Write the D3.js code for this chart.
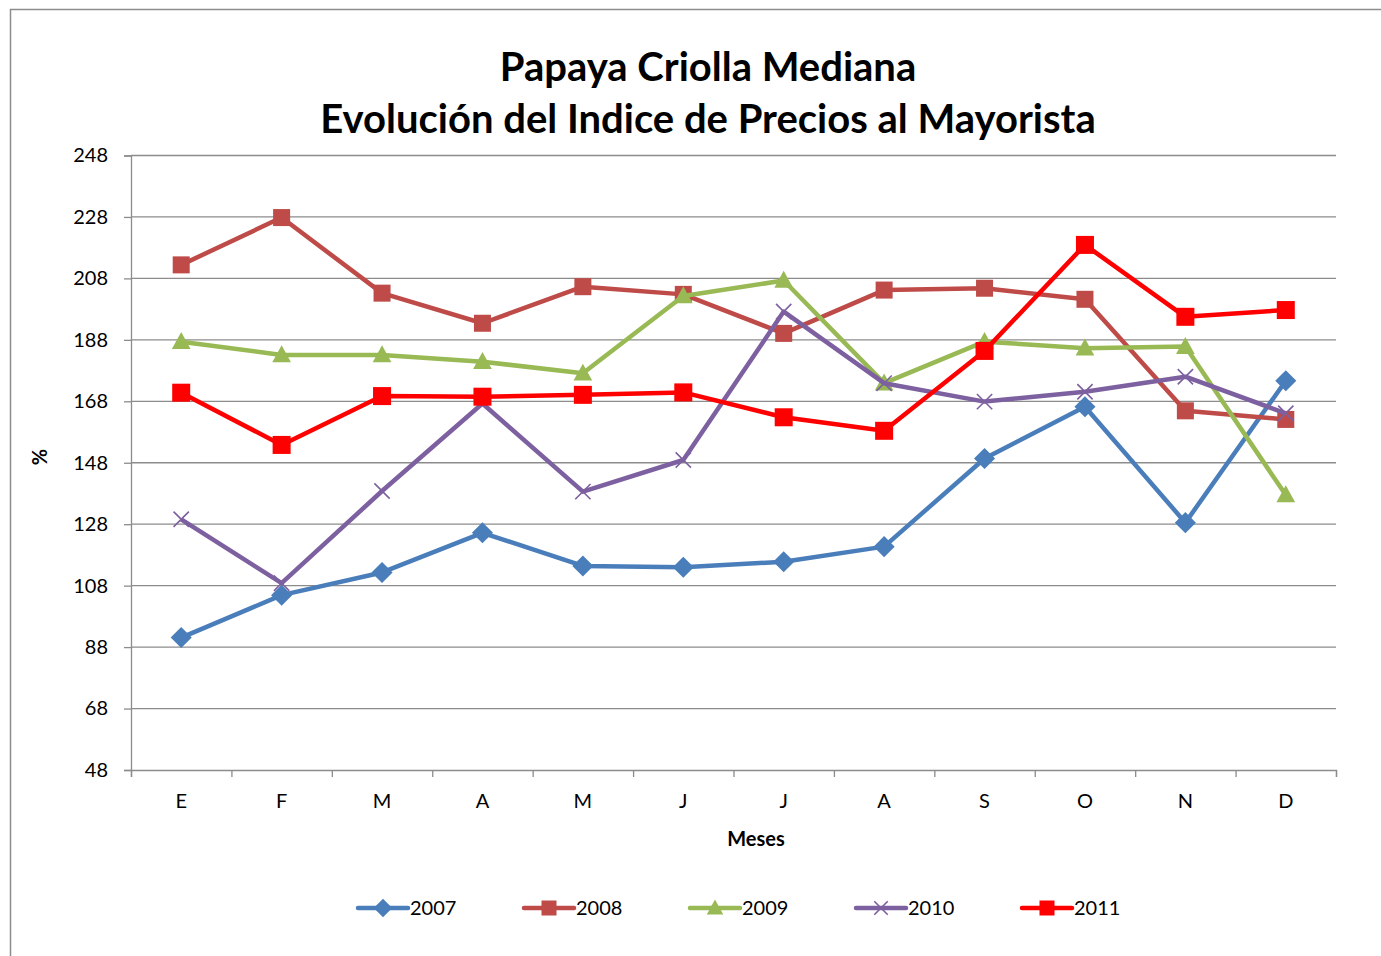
<!DOCTYPE html>
<html>
<head>
<meta charset="utf-8">
<script src="https://cdn.jsdelivr.net/npm/d3@7.9.0/dist/d3.min.js"></script>
<style>
  html, body { margin: 0; padding: 0; background: #fff; }
  svg { display: block; font-family: Lato, "Open Sans", sans-serif; }
</style>
</head>
<body>
<svg id="chart" width="1381" height="956"></svg>
<script>
const months = ['E', 'F', 'M', 'A', 'M', 'J', 'J', 'A', 'S', 'O', 'N', 'D'];
const yTicks = [48, 68, 88, 108, 128, 148, 168, 188, 208, 228, 248];

const v2007 = [91.1, 104.9, 112.3, 125.2, 114.4, 114.0, 115.8, 120.7, 149.4, 166.2, 128.5, 174.7];
const v2008 = [212.4, 227.8, 203.2, 193.4, 205.3, 202.8, 190.1, 204.2, 204.8, 201.2, 164.9, 162.1];
const v2009 = [187.4, 183.1, 183.1, 180.9, 177.1, 202.3, 207.3, 173.9, 187.4, 185.3, 185.8, 137.5];
const v2010 = [129.6, 108.8, 138.8, 167.3, 138.6, 148.9, 197.2, 173.9, 167.9, 171.1, 176.0, 164.1];
const v2011 = [170.8, 153.8, 169.7, 169.5, 170.1, 170.9, 162.8, 158.4, 184.4, 218.9, 195.5, 197.7];

const series = [
  { label: '2007', values: v2007, color: '#4A7EBB', marker: 'diamond' },
  { label: '2008', values: v2008, color: '#BE4B48', marker: 'square' },
  { label: '2009', values: v2009, color: '#98B954', marker: 'triangle' },
  { label: '2010', values: v2010, color: '#7D60A0', marker: 'x' },
  { label: '2011', values: v2011, color: '#FF0000', marker: 'square' },
];

const svg = d3.select('#chart');

// outer chart border
svg.append('rect')
  .attr('x', 10.5).attr('y', 9.5)
  .attr('width', 1400).attr('height', 1000)
  .attr('fill', 'none').attr('stroke', '#8c8c8c').attr('stroke-width', 1.5);

const plotLeft = 131, plotRight = 1336, plotTop = 155.5, plotBottom = 770;

const xEdge = d3.scaleLinear().domain([0, months.length]).range([plotLeft, plotRight]);
const x = i => xEdge(i + 0.5);
const y = d3.scaleLinear().domain([48, 248]).range([plotBottom, plotTop]);

// title
const title = svg.append('text')
  .attr('text-anchor', 'middle')
  .style('font-size', '40px').style('font-weight', 'bold');
title.append('tspan').attr('x', 708).attr('y', 81).text('Papaya Criolla Mediana');
title.append('tspan').attr('x', 708).attr('y', 133).text('Evolución del Indice de Precios al Mayorista');

// gridlines
svg.append('g')
  .selectAll('line')
  .data(yTicks.slice(1))
  .join('line')
  .attr('x1', plotLeft).attr('x2', plotRight)
  .attr('y1', d => y(d)).attr('y2', d => y(d))
  .attr('stroke', '#8c8c8c').attr('stroke-width', 1.3);

// y axis
const yAxis = svg.append('g')
  .attr('transform', `translate(${plotLeft},0)`)
  .call(d3.axisLeft(y).tickValues(yTicks).tickSize(7).tickPadding(16));
yAxis.select('.domain').attr('stroke', '#8c8c8c').attr('stroke-width', 1.3);
yAxis.selectAll('.tick line').attr('stroke', '#8c8c8c').attr('stroke-width', 1.3);
yAxis.selectAll('.tick text')
  .style('font-size', '20px').style('font-family', 'Lato, sans-serif').attr('fill', '#000');

// x axis (tick marks at category edges)
const xAxis = svg.append('g')
  .attr('transform', `translate(0,${plotBottom})`)
  .call(d3.axisBottom(xEdge).tickValues(d3.range(months.length + 1)).tickSize(7).tickFormat(''));
xAxis.select('.domain').attr('stroke', '#8c8c8c').attr('stroke-width', 1.3);
xAxis.selectAll('.tick line').attr('stroke', '#8c8c8c').attr('stroke-width', 1.3);

svg.append('g')
  .selectAll('text')
  .data(months)
  .join('text')
  .attr('x', (d, i) => x(i))
  .attr('y', 808)
  .attr('text-anchor', 'middle')
  .style('font-size', '20px')
  .text(d => d);

// axis titles
svg.append('text')
  .attr('x', 756).attr('y', 846)
  .attr('text-anchor', 'middle')
  .style('font-size', '20px').style('font-weight', 'bold')
  .text('Meses');

svg.append('text')
  .attr('transform', 'translate(47,457) rotate(-90)')
  .attr('text-anchor', 'middle')
  .style('font-size', '20px').style('font-weight', 'bold')
  .text('%');

// markers
function drawMarker(g, type, color, cx, cy, s) {
  if (type === 'square') {
    g.append('rect').attr('x', cx - s / 2).attr('y', cy - s / 2)
      .attr('width', s).attr('height', s).attr('fill', color);
  } else if (type === 'diamond') {
    const r = s * 0.62;
    g.append('path')
      .attr('d', `M${cx},${cy - r}L${cx + r},${cy}L${cx},${cy + r}L${cx - r},${cy}Z`)
      .attr('fill', color);
  } else if (type === 'triangle') {
    const h = s * 0.95;
    g.append('path')
      .attr('d', `M${cx},${cy - h * 0.6}L${cx + s * 0.55},${cy + h * 0.45}L${cx - s * 0.55},${cy + h * 0.45}Z`)
      .attr('fill', color);
  } else if (type === 'x') {
    const r = s * 0.45;
    g.append('path')
      .attr('d', `M${cx - r},${cy - r}L${cx + r},${cy + r}M${cx - r},${cy + r}L${cx + r},${cy - r}`)
      .attr('stroke', color).attr('stroke-width', 1.6).attr('fill', 'none');
  }
}

const line = d3.line().x((d, i) => x(i)).y(d => y(d));

series.forEach(s => {
  const g = svg.append('g');
  g.append('path')
    .datum(s.values)
    .attr('d', line)
    .attr('fill', 'none')
    .attr('stroke', s.color)
    .attr('stroke-width', 4.5)
    .attr('stroke-linejoin', 'round');
  s.values.forEach((v, i) => drawMarker(g, s.marker, s.color, x(i), y(v), s.label === '2011' ? 18 : 17));
});

// legend
const legend = svg.append('g');
series.forEach((s, i) => {
  const lx = 358 + i * 166, ly = 908;
  const g = legend.append('g');
  g.append('line')
    .attr('x1', lx).attr('x2', lx + 50)
    .attr('y1', ly).attr('y2', ly)
    .attr('stroke', s.color).attr('stroke-width', 4.5).attr('stroke-linecap', 'round');
  drawMarker(g, s.marker, s.color, lx + 25, ly, 15);
  g.append('text')
    .attr('x', lx + 52).attr('y', ly + 7)
    .style('font-size', '20px')
    .text(s.label);
});
</script>
</body>
</html>
